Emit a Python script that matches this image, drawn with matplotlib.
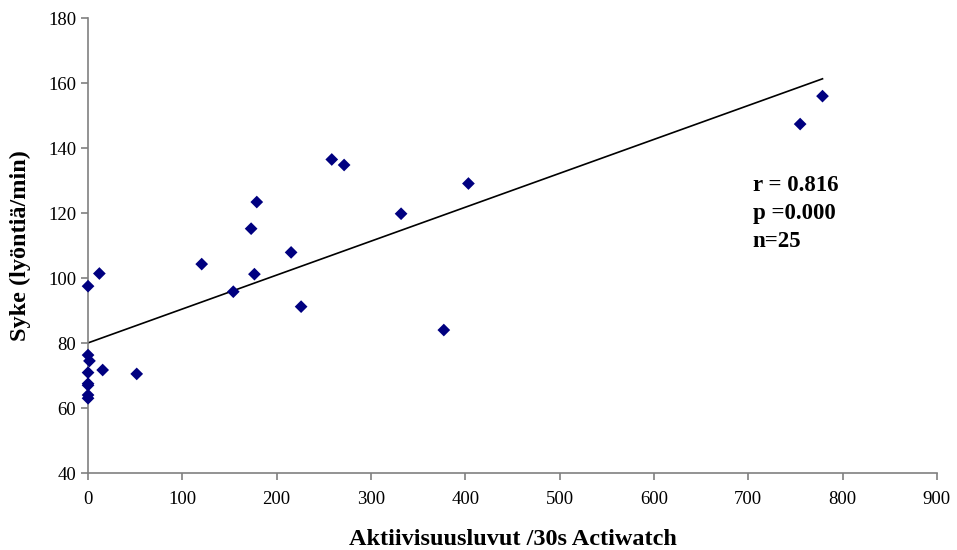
import numpy as np
import matplotlib.pyplot as plt

# -----------------------------
# Data: activity counts vs heart rate
# -----------------------------
activity = [0, 12, 0, 1.5, 0, 15.5, 51.6, 0, 0, 0, 0,
            120.5, 154, 172.9, 178.9, 176.4, 215.3, 225.9,
            258.4, 271.5, 331.9, 377.2, 403.3, 755, 778.7]
heart_rate = [97.5, 101.4, 76.3, 74.5, 70.9, 71.7, 70.5, 67.0, 67.5, 64.0, 63.0,
              104.3, 95.8, 115.2, 123.4, 101.2, 107.9, 91.2,
              136.5, 134.8, 119.8, 84.0, 129.1, 147.4, 156.0]

stats_lines = ["r = 0.816", "p =0.000", "n=25"]

plt.rcParams["font.family"] = ["Liberation Serif", "DejaVu Serif"]

fig = plt.figure(figsize=(9.57, 5.5), dpi=100)
ax = fig.add_axes([0.092, 0.14, 0.887, 0.827])

ax.scatter(activity, heart_rate, marker="D", s=42, color="#000080",
           edgecolors="none", zorder=3, clip_on=False)

# linear trend line over the data range
slope, intercept = np.polyfit(activity, heart_rate, 1)
xs = np.array([min(activity), max(activity)])
ax.plot(xs, intercept + slope * xs, color="black", linewidth=1.2, zorder=2)

ax.set_xlim(0, 900)
ax.set_ylim(40, 180)
ax.set_xticks(np.arange(0, 901, 100))
ax.set_yticks(np.arange(40, 181, 20))

for side in ["top", "right"]:
    ax.spines[side].set_visible(False)
for side in ["left", "bottom"]:
    ax.spines[side].set_color("#808080")
    ax.spines[side].set_linewidth(1.2)
ax.tick_params(axis="both", colors="#808080", labelcolor="black",
               labelsize=13.5, direction="out", length=5, width=1.2)
ax.tick_params(axis="x", pad=8)

ax.set_xlabel("Aktiivisuusluvut /30s Actiwatch", fontsize=17.5,
              fontweight="bold", labelpad=15)
ax.set_ylabel("Syke (lyöntiä/min)", fontsize=17.5, fontweight="bold",
              labelpad=12)

for i, line in enumerate(stats_lines):
    ax.text(0.783, 0.631 - i * 0.0615, line, transform=ax.transAxes,
            fontsize=16.5, fontweight="bold", va="center", ha="left")

fig.savefig("out.png", dpi=100)
